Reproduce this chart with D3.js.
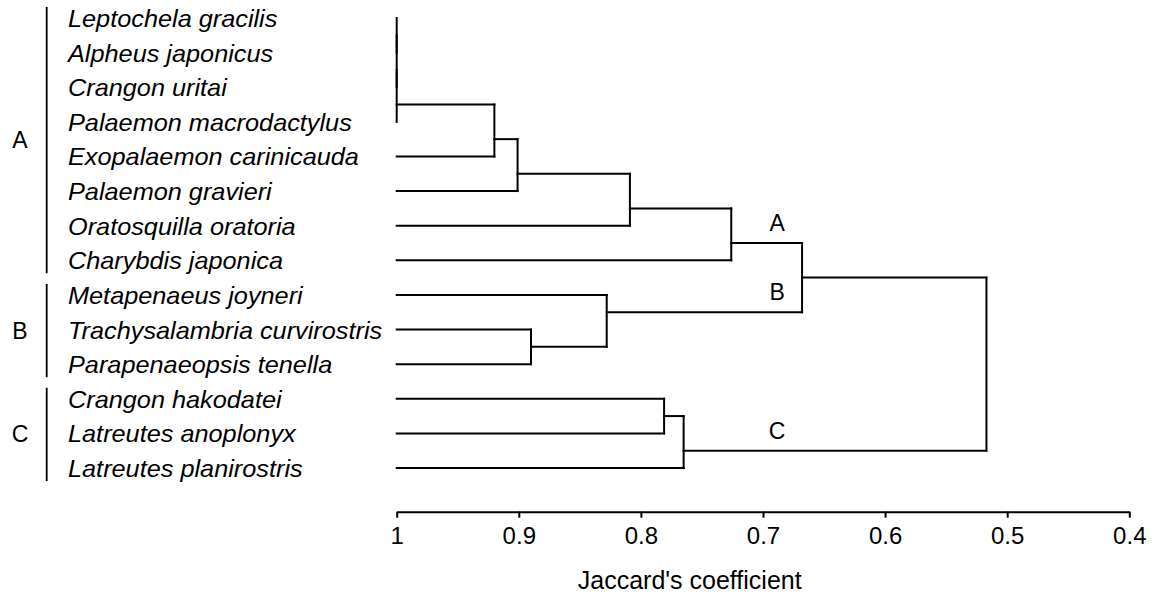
<!DOCTYPE html>
<html>
<head>
<meta charset="utf-8">
<script src="https://cdn.jsdelivr.net/npm/d3@7"></script>
<style>
  body { margin: 0; background: #fff; }
  text { font-family: "Liberation Sans", Arial, sans-serif; fill: #000; }
</style>
</head>
<body>
<div id="container"></div>
<script>
let w = 1153;
let h = 594;

// DATA
const species = [
  "Leptochela gracilis", "Alpheus japonicus", "Crangon uritai", "Palaemon macrodactylus",
  "Exopalaemon carinicauda", "Palaemon gravieri", "Oratosquilla oratoria", "Charybdis japonica",
  "Metapenaeus joyneri", "Trachysalambria curvirostris", "Parapenaeopsis tenella",
  "Crangon hakodatei", "Latreutes anoplonyx", "Latreutes planirostris"
];
const groupNames = ["A", "B", "C"];
const groupFirst = [0, 8, 11];
const groupLast = [7, 10, 13];

// hclust style merges: negative = leaf (1-based), positive = earlier merge (1-based)
const merges = [
  [-1, -2], [1, -3], [2, -4], [3, -5], [4, -6], [5, -7], [6, -8],
  [-10, -11], [-9, 8],
  [-12, -13], [10, -14],
  [7, 9], [12, 11]
];
const heights = [1, 1, 1, 0.920, 0.901, 0.809, 0.726, 0.890, 0.828, 0.781, 0.765, 0.668, 0.517];

const clusterNames = ["A", "B", "C"];
const clusterNodes = [7, 9, 11];
const tickValues = [1, 0.9, 0.8, 0.7, 0.6, 0.5, 0.4];
const axisTitle = "Jaccard's coefficient";

// SVG
let viz = d3.select("#container").append("svg")
  .attr("width", w)
  .attr("height", h)
  .style("background-color", "white");

let xScale = d3.scaleLinear().domain([1, 0.4]).range([396.7, 1129.3]);
let yScale = d3.scaleLinear().domain([0, species.length - 1]).range([18, 468]);

// node positions
let nodeY = [];
function childY(c) { return c < 0 ? yScale(-c - 1) : nodeY[c - 1]; }
function childH(c) { return c < 0 ? 1 : heights[c - 1]; }
function weight(c) { return c < 0 ? 2 : 1; }
merges.forEach(function (m, i) {
  let a = m[0], b = m[1];
  if (a < 0 && b < 0 || a > 0 && b > 0) {
    nodeY[i] = (childY(a) + childY(b)) / 2;
  } else {
    nodeY[i] = (childY(a) * weight(a) + childY(b) * weight(b)) / (weight(a) + weight(b));
  }
});

// line segments of the tree
let segs = [];
merges.forEach(function (m, i) {
  let xh = xScale(heights[i]);
  segs.push([xh, childY(m[0]), xh, childY(m[1])]);
  m.forEach(function (c) {
    let x0 = xScale(childH(c));
    if (Math.abs(x0 - xh) > 0.5) segs.push([x0, childY(c), xh, childY(c)]);
  });
});

viz.append("g").selectAll("line").data(segs).enter()
  .append("line")
    .attr("x1", d => d[0]).attr("y1", d => d[1])
    .attr("x2", d => d[2]).attr("y2", d => d[3])
    .attr("stroke", "black")
    .attr("stroke-width", 2)
    .attr("stroke-linecap", "square");

// species names
viz.append("g").selectAll("text").data(species).enter()
  .append("text")
    .attr("transform", (d, i) => "translate(68," + (yScale(i) + 9) + ") scale(1.1,1)")
    .attr("font-size", 23)
    .attr("font-style", "italic")
    .text(d => d);

// left brackets and group letters
let groups = viz.append("g").selectAll("g").data(groupNames).enter().append("g");
groups.append("line")
  .attr("x1", 46.7).attr("x2", 46.7)
  .attr("y1", (d, i) => yScale(groupFirst[i]) - 11)
  .attr("y2", (d, i) => yScale(groupLast[i]) + 13)
  .attr("stroke", "black")
  .attr("stroke-width", 1.8);
groups.append("text")
  .attr("x", 20)
  .attr("y", (d, i) => (yScale(groupFirst[i]) + yScale(groupLast[i])) / 2 + 9)
  .attr("text-anchor", "middle")
  .attr("font-size", 23)
  .text(d => d);

// cluster letters on the branches
viz.append("g").selectAll("text").data(clusterNames).enter()
  .append("text")
    .attr("x", xScale(heights[11]) - 25)
    .attr("y", (d, i) => nodeY[clusterNodes[i] - 1] - 12)
    .attr("text-anchor", "middle")
    .attr("font-size", 23)
    .text(d => d);

// axis
let axis = d3.axisBottom(xScale)
  .tickValues(tickValues)
  .tickFormat(d => String(d))
  .tickSize(6)
  .tickSizeOuter(0)
  .tickPadding(9);

let ax = viz.append("g")
  .attr("transform", "translate(0,511.7)")
  .call(axis);
ax.select(".domain").attr("stroke-width", 2);
ax.selectAll(".tick line").attr("stroke-width", 2);
ax.selectAll(".tick text")
  .attr("font-size", 24)
  .attr("font-family", "Liberation Sans, Arial, sans-serif");

viz.append("text")
  .attr("x", xScale(0.76))
  .attr("y", 589)
  .attr("text-anchor", "middle")
  .attr("font-size", 25)
  .text(axisTitle);
</script>
</body>
</html>
